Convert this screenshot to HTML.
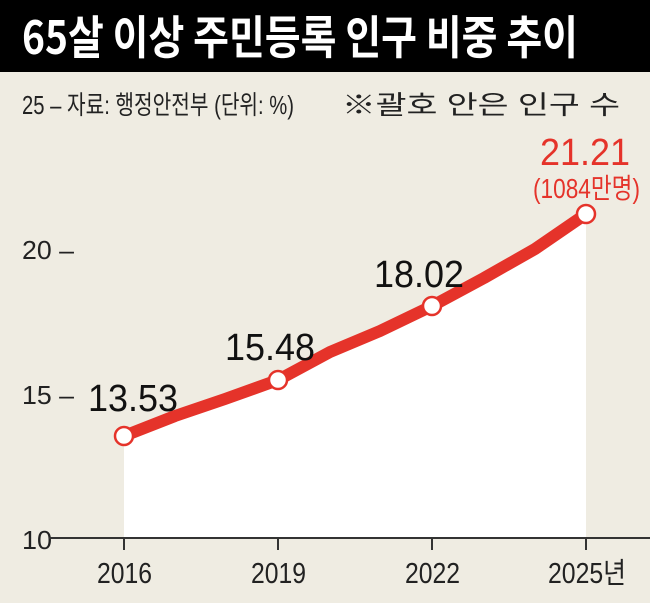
<!DOCTYPE html>
<html><head><meta charset="utf-8"><style>
body{margin:0;width:650px;height:603px;background:#efece2;overflow:hidden;font-family:"Liberation Sans","Noto Sans CJK KR",sans-serif;}
</style></head><body>
<svg width="650" height="603" xmlns="http://www.w3.org/2000/svg" style="position:absolute;left:0;top:0">
<rect x="0" y="0" width="650" height="603" fill="#efece2"/>
<rect x="0" y="0" width="650" height="72" fill="#000"/>
<text x="22" y="54" font-size="46" font-weight="bold" fill="#fff" font-family="Noto Sans CJK KR, sans-serif" textLength="556" lengthAdjust="spacingAndGlyphs">65살 이상 주민등록 인구 비중 추이</text>
<g font-family="Liberation Sans, Noto Sans CJK KR, sans-serif" fill="#222" font-size="26">
<text x="22" y="114" textLength="272" lengthAdjust="spacingAndGlyphs">25 –  자료: 행정안전부   (단위: %)</text>
<text x="342" y="114" textLength="278" lengthAdjust="spacingAndGlyphs">※괄호 안은 인구 수</text>
<text x="22" y="259" textLength="52" lengthAdjust="spacingAndGlyphs">20 –</text>
<text x="22" y="404" textLength="52" lengthAdjust="spacingAndGlyphs">15 –</text>
<text x="22" y="549" textLength="30" lengthAdjust="spacingAndGlyphs">10</text>
</g>
<polygon points="124,436 175,416 225,399 278,380 330,352 380,331 432,306 484,278 535,249 586,214 586,538 124,538" fill="#fff"/>
<line x1="49" y1="538" x2="650" y2="538" stroke="#333" stroke-width="2"/>
<g stroke="#333" stroke-width="2">
<line x1="124" y1="538" x2="124" y2="550"/><line x1="278" y1="538" x2="278" y2="550"/>
<line x1="432" y1="538" x2="432" y2="550"/><line x1="586" y1="538" x2="586" y2="550"/>
</g>
<polyline points="124,436 175,416 225,399 278,380 330,352 380,331 432,306 484,278 535,249 586,214" fill="none" stroke="#e5332a" stroke-width="12" stroke-linejoin="round"/>
<g fill="#fff" stroke="#e5332a" stroke-width="2.5">
<circle cx="124" cy="436" r="9"/><circle cx="278" cy="380" r="9"/><circle cx="432" cy="306" r="9"/><circle cx="586" cy="214" r="9"/>
</g>
<g font-family="Liberation Sans, Noto Sans CJK KR, sans-serif" fill="#111" font-size="38">
<text x="88" y="411" textLength="90" lengthAdjust="spacingAndGlyphs">13.53</text>
<text x="225" y="360" textLength="90" lengthAdjust="spacingAndGlyphs">15.48</text>
<text x="374" y="287" textLength="90" lengthAdjust="spacingAndGlyphs">18.02</text>
<text x="540" y="165" fill="#e5332a" textLength="90" lengthAdjust="spacingAndGlyphs">21.21</text>
<text x="533" y="198" font-size="28" fill="#e5332a" textLength="107" lengthAdjust="spacingAndGlyphs">(1084만명)</text>
</g>
<g font-family="Liberation Sans, Noto Sans CJK KR, sans-serif" fill="#222" font-size="29">
<text x="97" y="583" textLength="55" lengthAdjust="spacingAndGlyphs">2016</text>
<text x="251" y="583" textLength="55" lengthAdjust="spacingAndGlyphs">2019</text>
<text x="405" y="583" textLength="55" lengthAdjust="spacingAndGlyphs">2022</text>
<text x="548" y="583" textLength="78" lengthAdjust="spacingAndGlyphs">2025년</text>
</g>
</svg>
</body></html>
